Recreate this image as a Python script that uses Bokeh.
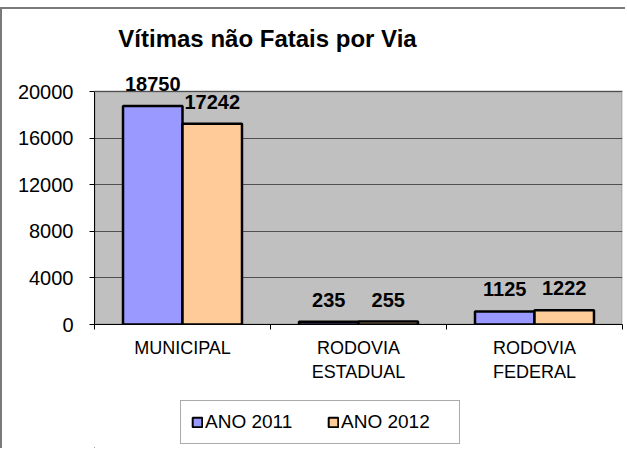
from bokeh.plotting import figure
from bokeh.layouts import column
from bokeh.models import (ColumnDataSource, Range1d, FixedTicker, LabelSet, Label,
                          Legend, LegendItem, BoxAnnotation)
from bokeh.core.properties import value
from bokeh.transform import dodge
from bokeh.embed import file_html
from bokeh.resources import INLINE

categories = ["MUNICIPAL", "RODOVIA\nESTADUAL", "RODOVIA\nFEDERAL"]
ano_2011 = [18750, 235, 1125]
ano_2012 = [17242, 255, 1222]
series_names = ["ANO 2011", "ANO 2012"]
colors = ["#9999FF", "#FFCC99"]
y_ticks = [0, 4000, 8000, 12000, 16000, 20000]
y_max = 20000
title_text = "Vítimas não Fatais por Via"

FONT = "Liberation Sans"
FRAME = "#7a7a7a"

# geometry of the main canvas (pixels)
W, H = 625, 376
frame_left, frame_bottom_px, area_top_px = 92, 315, 82
px_per_unit = (frame_bottom_px - area_top_px) / y_max
y_top = y_max + area_top_px / px_per_unit

n = len(categories)
centers = [i + 0.5 for i in range(n)]
src = ColumnDataSource(dict(x=centers, a=ano_2011, b=ano_2012,
                            la=[str(v) for v in ano_2011],
                            lb=[str(v) for v in ano_2012]))

p = figure(width=W, height=H, output_backend="svg", toolbar_location=None,
           x_range=Range1d(0, n), y_range=Range1d(0, y_top),
           min_border_left=frame_left, min_border_right=5, min_border_top=0,
           min_border_bottom=H - frame_bottom_px)
p.styles = {"border-left": f"2px solid {FRAME}", "border-top": f"2px solid {FRAME}",
            "margin-top": "7px"}

p.background_fill_color = "white"
p.border_fill_color = "white"
p.outline_line_color = None

# plot area (gray) limited to 0..y_max
p.add_layout(BoxAnnotation(left=0, right=n, bottom=0, top=y_max,
                           fill_color="#C0C0C0", fill_alpha=1,
                           line_color="#808080", line_width=3, level="image"))

bw = 0.338
r1 = p.vbar(x=dodge("x", -bw / 2, range=p.x_range), top="a", width=bw, source=src,
            fill_color=colors[0], line_color="black", line_width=2.5)
r2 = p.vbar(x=dodge("x", bw / 2, range=p.x_range), top="b", width=bw, source=src,
            fill_color=colors[1], line_color="black", line_width=2.5)

# axes
p.yaxis.ticker = FixedTicker(ticks=y_ticks)
p.yaxis.bounds = (0, y_max)
p.yaxis.major_label_text_font = FONT
p.yaxis.major_label_text_font_size = "20px"
p.yaxis.major_label_text_color = "black"
p.yaxis.axis_line_color = "black"
p.yaxis.major_tick_line_color = "black"
p.yaxis.major_tick_out = 5
p.yaxis.major_tick_in = 0
p.yaxis.minor_tick_line_color = None
p.yaxis.major_label_standoff = 16

p.xaxis.ticker = FixedTicker(ticks=centers, minor_ticks=list(range(n + 1)))
p.xaxis.major_label_overrides = {c: t for c, t in zip(centers, categories)}
p.xaxis.major_label_text_font = FONT
p.xaxis.major_label_text_font_size = "18px"
p.xaxis.major_label_text_color = "black"
p.xaxis.axis_line_color = "black"
p.xaxis.major_tick_line_color = None
p.xaxis.minor_tick_line_color = "black"
p.xaxis.minor_tick_out = 5
p.xaxis.minor_tick_in = 0
p.xaxis.major_label_standoff = 7

p.xgrid.grid_line_color = None
p.ygrid.ticker = FixedTicker(ticks=y_ticks)
p.ygrid.grid_line_color = "#505050"
p.ygrid.grid_line_width = 1

# data labels
for col, lab, off in (("a", "la", -bw / 2), ("b", "lb", bw / 2)):
    ls = LabelSet(x=dodge("x", off, range=p.x_range), y=col, text=lab, source=src,
                  y_offset=15, text_align="center", text_baseline="alphabetic",
                  text_font=value(FONT), text_font_size=value("20px"),
                  text_font_style="bold", text_color="black")
    p.add_layout(ls)

# title
title_y = y_max + (area_top_px - 29) / px_per_unit
p.add_layout(Label(x=0.983, y=title_y, text=title_text, text_align="center",
                   text_baseline="alphabetic", text_font=FONT, text_font_size="24px",
                   text_font_style="bold", text_color="black"))

# legend strip
H2 = 65
p2 = figure(width=W, height=H2, output_backend="svg", toolbar_location=None,
            x_range=Range1d(0, 1), y_range=Range1d(0, 1), min_border=0,
            x_axis_location=None, y_axis_location=None)
p2.styles = {"border-left": f"2px solid {FRAME}"}
p2.grid.grid_line_color = None
p2.outline_line_color = None
p2.background_fill_color = None
p2.border_fill_color = "white"
# legend swatches (kept outside the visible range)
d1 = p2.vbar(x=[-10], top=[-10], width=0.1, fill_color=colors[0],
             line_color="black", line_width=2)
d2 = p2.vbar(x=[-10], top=[-10], width=0.1, fill_color=colors[1],
             line_color="black", line_width=2)
legend = Legend(items=[LegendItem(label=series_names[0], renderers=[d1]),
                       LegendItem(label=series_names[1], renderers=[d2])],
                location=(86, 4), orientation="horizontal",
                border_line_color="#555555", border_line_width=1,
                background_fill_color="white", background_fill_alpha=1,
                glyph_width=12, glyph_height=12, label_standoff=2, spacing=14,
                padding=10, margin=0, label_text_font=FONT,
                label_text_font_size="19px", label_text_color="black",
                label_height=20, label_width=108)
p2.add_layout(legend, "center")

layout = column(p, p2, spacing=0)
open("out.html", "w").write(file_html(layout, INLINE))
